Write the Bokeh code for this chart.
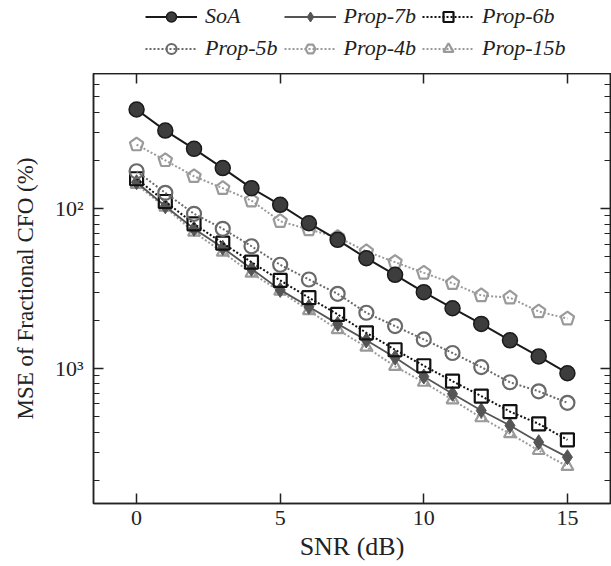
import math
from bokeh.plotting import figure
from bokeh.layouts import column
from bokeh.models import (ColumnDataSource, FixedTicker, LinearAxis, LogAxis,
                          Legend, LegendItem, Range1d, CustomLabelingPolicy)
from bokeh.embed import file_html
from bokeh.resources import INLINE

# ---- data ----
snr = list(range(16))
soa = [0.0416, 0.0307, 0.0236, 0.0179, 0.0134, 0.01055, 0.00809, 0.00637,
       0.00489, 0.00385, 0.00300, 0.00238, 0.00190, 0.00150, 0.00119, 0.000934]
prop7 = [0.0146, 0.01033, 0.00747, 0.00568, 0.00420, 0.00310, 0.00243, 0.00190,
         0.00150, 0.00117, 0.000891, 0.000695, 0.000546, 0.000440, 0.000346, 0.000279]
prop6 = [0.01535, 0.01106, 0.00802, 0.00607, 0.00462, 0.00355, 0.00277, 0.00218,
         0.00167, 0.00131, 0.00104, 0.000833, 0.000672, 0.000538, 0.000451, 0.000358]
prop5 = [0.0171, 0.01253, 0.00927, 0.00747, 0.00581, 0.00445, 0.00360, 0.00293,
         0.00223, 0.00184, 0.00152, 0.00125, 0.00102, 0.00082, 0.00072, 0.00061]
prop4 = [0.0251, 0.0200, 0.0159, 0.0134, 0.0112, 0.00833, 0.00739, 0.00662,
         0.00539, 0.00462, 0.00396, 0.00341, 0.00286, 0.00277, 0.00227, 0.00205]
prop15 = [0.01413, 0.01019, 0.00711, 0.00533, 0.00394, 0.00304, 0.00230, 0.00175,
          0.00136, 0.00103, 0.00082, 0.000637, 0.000492, 0.000391, 0.000307, 0.000244]

series_names = ["SoA", "Prop-7b", "Prop-6b", "Prop-5b", "Prop-4b", "Prop-15b"]
x_ticks = [0, 5, 10, 15]
y_major = [0.01, 0.001]
y_major_labels = {0.01: "10²", 0.001: "10³"}
y_minor = [k * 10.0 ** d for d in (-4, -3, -2) for k in range(2, 10)]

FONT = "Liberation Serif"
LEG_H = 73

# series styles
STY = {
    "SoA": dict(line=dict(line_color="#1a1a1a", line_width=2),
                marker="circle", m=dict(fill_color="#3d3d3d", line_color="#1a1a1a", line_width=1.5), size=15),
    "Prop-7b": dict(line=dict(line_color="#555555", line_width=1.8),
                    marker="diamond", m=dict(fill_color="#555555", line_color="#555555", line_width=1), size=15),
    "Prop-6b": dict(line=dict(line_color="#111111", line_width=2, line_dash="2 2"),
                    marker="square", m=dict(fill_color=None, line_color="#111111", line_width=2.2), size=13),
    "Prop-5b": dict(line=dict(line_color="#6a6a6a", line_width=2, line_dash="2 2"),
                    marker="circle", m=dict(fill_color=None, line_color="#6a6a6a", line_width=2.2), size=14),
    "Prop-4b": dict(line=dict(line_color="#9a9a9a", line_width=2, line_dash="2 2"),
                    marker="hex", m=dict(fill_color=None, line_color="#9a9a9a", line_width=2.2), size=13),
    "Prop-15b": dict(line=dict(line_color="#9a9a9a", line_width=2, line_dash="2 2"),
                     marker="triangle", m=dict(fill_color=None, line_color="#9a9a9a", line_width=2.2), size=12),
}
LEG_SIZE = {"SoA": 12, "Prop-7b": 12, "Prop-6b": 11, "Prop-5b": 11,
            "Prop-4b": 11, "Prop-15b": 10}

# ---------------- main plot ----------------
p = figure(width=611, height=566 - LEG_H, y_axis_type="log",
           x_range=Range1d(-1.5, 16.5),
           y_range=Range1d(10 ** -3.844, 10 ** -1.156),
           output_backend="svg", toolbar_location=None,
           min_border_left=93, min_border_right=1,
           min_border_top=0, min_border_bottom=63)
p.background_fill_color = "white"
p.border_fill_color = "white"
p.outline_line_color = "#222222"
p.outline_line_width = 1.5
p.grid.visible = False

xa = p.xaxis[0]
xa.ticker = FixedTicker(ticks=x_ticks)
xa.axis_label = "SNR (dB)"
ya = p.yaxis[0]
ya.ticker = FixedTicker(ticks=y_major, minor_ticks=y_minor)
ya.major_label_overrides = y_major_labels
ya.axis_label = "MSE of Fractional CFO (%)"


def style_ticks(ax):
    ax.axis_line_color = "#222222"
    ax.axis_line_width = 1.5
    ax.major_tick_line_color = "#222222"
    ax.minor_tick_line_color = "#222222"
    ax.major_tick_line_width = 1.5
    ax.minor_tick_line_width = 1.2
    ax.major_tick_in = 10
    ax.major_tick_out = 0
    ax.minor_tick_in = 6
    ax.minor_tick_out = 0


for ax in (xa, ya):
    ax.axis_label_text_font = FONT
    ax.axis_label_text_font_style = "normal"
    ax.axis_label_text_color = "#222222"
    ax.major_label_text_font = FONT
    ax.major_label_text_font_size = "22px"
    ax.major_label_text_color = "#222222"
    style_ticks(ax)

xa.axis_label_text_font_size = "26px"
ya.axis_label_text_font_size = "23px"
xa.major_label_standoff = 7
xa.axis_label_standoff = 4
ya.major_label_standoff = 10
ya.axis_label_standoff = 14

hide_all = CustomLabelingPolicy(code="for (const i of Array.from(indices)) indices.unset(i); return indices;")
top = LinearAxis(ticker=FixedTicker(ticks=x_ticks), major_label_policy=hide_all,
                 major_label_overrides={t: "" for t in x_ticks})
right = LogAxis(ticker=FixedTicker(ticks=y_major, minor_ticks=y_minor),
                major_label_policy=hide_all,
                major_label_overrides={t: "" for t in y_major})
for ax in (top, right):
    ax.major_label_standoff = 0
    ax.axis_label_standoff = 0
    style_ticks(ax)
p.add_layout(top, "above")
p.add_layout(right, "right")

src = ColumnDataSource(dict(x=snr, soa=soa, p7=prop7, p6=prop6, p5=prop5,
                            p4=prop4, p15=prop15))
cols = {"SoA": "soa", "Prop-7b": "p7", "Prop-6b": "p6", "Prop-5b": "p5",
        "Prop-4b": "p4", "Prop-15b": "p15"}

for name in ["Prop-15b", "Prop-7b", "Prop-6b", "Prop-5b", "Prop-4b", "SoA"]:
    s = STY[name]
    p.line("x", cols[name], source=src, **s["line"])
    if name == "Prop-4b":
        p.ngon("x", cols[name], source=src, radius=7, radius_units="screen", n=5,
               angle=0, **s["m"])
    else:
        p.scatter("x", cols[name], source=src, marker=s["marker"], size=s["size"], **s["m"])

# ---------------- legend strip ----------------
lg = figure(width=611, height=LEG_H, x_range=Range1d(0, 1), y_range=Range1d(0, 1),
            output_backend="svg", toolbar_location=None,
            x_axis_location=None, y_axis_location=None,
            min_border=0)
lg.outline_line_color = None
lg.grid.visible = False
lg.background_fill_color = "white"
lg.border_fill_color = "white"

# legend proxies: one point each, placed outside the strip's visible range
proxy = ColumnDataSource(dict(x=[-10.0], y=[-10.0]))
items = []
for name in series_names:
    s = STY[name]
    rl = lg.line("x", "y", source=proxy, **s["line"])
    rm = lg.scatter("x", "y", source=proxy, marker=s["marker"], size=LEG_SIZE[name], **s["m"])
    items.append(LegendItem(label=name, renderers=[rl, rm]))

legend = Legend(items=items, orientation="horizontal", ncols=3,
                location=(50, 10), glyph_width=52, glyph_height=25,
                label_standoff=8, spacing=6, padding=2, margin=0,
                label_text_font=FONT, label_text_font_style="italic",
                label_text_font_size="22px", label_text_color="#222222",
                border_line_alpha=0, background_fill_alpha=0)
lg.add_layout(legend, "center")

layout = column(lg, p, spacing=0)
open("out.html", "w").write(file_html(layout, INLINE))
